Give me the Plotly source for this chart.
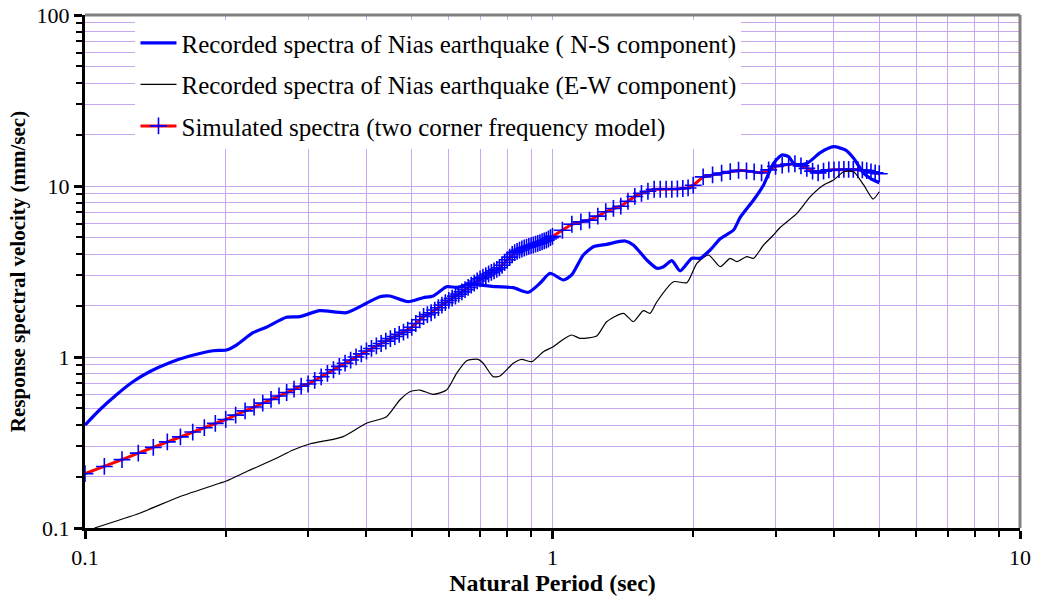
import plotly.graph_objects as go

# ---------------- data ----------------
period_ns = [0.100, 0.1074, 0.1166, 0.1266, 0.1374, 0.1517, 0.1675, 0.1878, 0.2006, 0.2108,
             0.2288, 0.2443, 0.2697, 0.288, 0.3178, 0.3624, 0.400, 0.4272, 0.4487, 0.4912,
             0.5287, 0.5555, 0.5934, 0.6235, 0.666, 0.6995, 0.7597, 0.8245, 0.8877, 0.940,
             0.988, 1.055, 1.099, 1.164, 1.223, 1.306, 1.429, 1.489, 1.591, 1.672,
             1.728, 1.800, 1.875, 1.986, 2.069, 2.174, 2.284, 2.440, 2.520, 2.692,
             2.828, 2.970, 3.096, 3.198, 3.305, 3.502, 3.740, 3.994, 4.230, 4.407,
             4.630, 4.785, 5.000]
sv_ns = [0.400, 0.490, 0.600, 0.717, 0.820, 0.926, 1.013, 1.088, 1.099, 1.175,
         1.387, 1.492, 1.707, 1.721, 1.866, 1.816, 2.061, 2.253, 2.274, 2.105,
         2.222, 2.274, 2.577, 2.556, 2.673, 2.637, 2.577, 2.543, 2.390, 2.698,
         3.087, 2.820, 3.017, 3.950, 4.416, 4.560, 4.769, 4.518, 3.692, 3.302,
         3.373, 3.658, 3.184, 3.778, 3.778, 4.224, 4.912, 5.531, 6.545, 8.280,
         10.14, 13.57, 15.18, 14.84, 13.27, 13.57, 15.66, 16.97, 16.24, 14.52,
         11.87, 11.09, 10.45]

period_ew = [0.1048, 0.1308, 0.1594, 0.1941, 0.2006, 0.2214, 0.2567, 0.2786, 0.3025, 0.3393,
             0.3565, 0.400, 0.4416, 0.4714, 0.4954, 0.5204, 0.5555, 0.5934, 0.6235, 0.6553,
             0.6936, 0.7109, 0.7468, 0.772, 0.8245, 0.859, 0.903, 0.956, 1.004, 1.055,
             1.099, 1.145, 1.243, 1.306, 1.418, 1.489, 1.564, 1.617, 1.672, 1.815,
             1.939, 2.036, 2.157, 2.284, 2.399, 2.480, 2.604, 2.692, 2.828, 2.970,
             3.071, 3.333, 3.559, 3.801, 3.994, 4.195, 4.407, 4.630, 4.849, 5.000]
sv_ew = [0.100, 0.122, 0.1524, 0.1826, 0.1883, 0.2134, 0.2557, 0.2858, 0.310, 0.330,
         0.342, 0.4096, 0.4476, 0.5605, 0.6267, 0.641, 0.605, 0.641, 0.803, 0.951,
         0.969, 0.919, 0.767, 0.774, 0.919, 0.969, 0.939, 1.074, 1.149, 1.269,
         1.345, 1.286, 1.327, 1.608, 1.801, 1.608, 1.866, 1.801, 2.105, 2.756,
         2.720, 3.532, 3.950, 3.373, 3.778, 3.608, 3.860, 3.778, 4.518, 5.170,
         5.734, 6.923, 8.660, 10.14, 10.84, 12.12, 12.12, 10.14, 8.390, 9.260]

period_sim = [0.10, 0.11, 0.12, 0.13, 0.14, 0.15, 0.16, 0.17, 0.18, 0.19,
              0.20, 0.21, 0.22, 0.23, 0.24, 0.25, 0.26, 0.27, 0.28, 0.29,
              0.30, 0.31, 0.32, 0.33, 0.34, 0.35, 0.36, 0.37, 0.38, 0.39,
              0.40, 0.41, 0.42, 0.43, 0.44, 0.45, 0.46, 0.47, 0.48, 0.49,
              0.50, 0.51, 0.52, 0.53, 0.54, 0.55, 0.56, 0.57, 0.58, 0.59,
              0.60, 0.61, 0.62, 0.63, 0.64, 0.65, 0.66, 0.67, 0.68, 0.69,
              0.70, 0.71, 0.72, 0.73, 0.74, 0.75, 0.76, 0.77, 0.78, 0.79,
              0.80, 0.81, 0.82, 0.83, 0.84, 0.85, 0.86, 0.87, 0.88, 0.89,
              0.90, 0.91, 0.92, 0.93, 0.94, 0.95, 0.96, 0.97, 0.98, 0.99,
              1.00, 1.05, 1.10, 1.15, 1.20, 1.25, 1.30, 1.35, 1.40, 1.45,
              1.50, 1.55, 1.60, 1.65, 1.70, 1.75, 1.80, 1.85, 1.90, 1.95,
              2.00, 2.1, 2.2, 2.3, 2.4, 2.5, 2.6, 2.7, 2.8, 2.9,
              3.0, 3.1, 3.2, 3.3, 3.4, 3.5, 3.6, 3.7, 3.8, 3.9,
              4.0, 4.1, 4.2, 4.3, 4.4, 4.5, 4.6, 4.7, 4.8, 4.9,
              5.0]
sv_sim = [0.208, 0.229, 0.251, 0.274, 0.296, 0.319, 0.341, 0.364, 0.386, 0.409,
          0.431, 0.457, 0.484, 0.510, 0.537, 0.565, 0.592, 0.620, 0.648, 0.675,
          0.695, 0.729, 0.766, 0.803, 0.842, 0.881, 0.920, 0.960, 1.001, 1.043,
          1.084, 1.122, 1.161, 1.199, 1.239, 1.280, 1.318, 1.357, 1.396, 1.436,
          1.493, 1.570, 1.650, 1.725, 1.770, 1.815, 1.882, 1.942, 2.010, 2.080,
          2.145, 2.208, 2.270, 2.332, 2.404, 2.478, 2.553, 2.629, 2.706, 2.784,
          2.862, 2.926, 2.991, 3.057, 3.123, 3.190, 3.257, 3.324, 3.440, 3.568,
          3.702, 3.837, 3.976, 4.078, 4.146, 4.213, 4.281, 4.340, 4.385, 4.430,
          4.475, 4.518, 4.568, 4.617, 4.667, 4.720, 4.770, 4.820, 4.900, 4.986,
          5.072, 5.510, 5.974, 6.170, 6.320, 6.665, 7.070, 7.390, 7.620, 8.146,
          8.690, 9.050, 9.320, 9.570, 9.570, 9.570, 9.570, 9.620, 9.670, 9.740,
          10.11, 11.30, 11.62, 11.90, 12.14, 12.36, 12.26, 12.08, 11.92, 12.42,
          13.03, 13.23, 13.42, 13.49, 13.12, 12.68, 12.22, 11.93, 12.22, 12.42,
          12.43, 12.46, 12.50, 12.52, 12.50, 12.45, 12.41, 12.30, 12.10, 11.93,
          11.80]

x_tickvals = [0.1, 1, 10]
x_ticktext = ["0.1", "1", "10"]
y_tickvals = [0.1, 1, 10, 100]
y_ticktext = ["0.1", "1", "10", "100"]

name_ns = "Recorded spectra of Nias earthquake ( N-S component)"
name_ew = "Recorded spectra of Nias earthquake (E-W component)"
name_sim = "Simulated spectra (two corner frequency model)"

# ---------------- figure ----------------
SERIF = "Liberation Serif, Times New Roman, serif"
GRID = "#C8A6F2"

fig = go.Figure()
fig.add_trace(go.Scatter(
    x=period_sim, y=sv_sim, name=name_sim, mode="lines+markers",
    line=dict(color="#FF0000", width=3),
    marker=dict(symbol="cross-thin", size=12, line=dict(color="#0000FF", width=1.6), color="#0000FF"),
    legendgroup="c", legendrank=3))
fig.add_trace(go.Scatter(
    x=period_ew, y=sv_ew, name=name_ew, mode="lines",
    line=dict(color="#000000", width=1.2, shape="spline", smoothing=0.6),
    legendgroup="b", legendrank=2))
fig.add_trace(go.Scatter(
    x=period_ns, y=sv_ns, name=name_ns, mode="lines",
    line=dict(color="#0000FF", width=3.2, shape="spline", smoothing=0.6),
    legendgroup="a", legendrank=1))

minor_vals = [m * 10 ** e for e in range(-1, 2) for m in range(2, 10)]

fig.update_xaxes(
    type="log", range=[-1, 1], automargin=False,
    tickmode="array", tickvals=x_tickvals, ticktext=x_ticktext,
    showline=True, linecolor="black", linewidth=3,
    ticks="outside", ticklen=8, tickwidth=2.5, tickcolor="black",
    showgrid=True, gridcolor=GRID, gridwidth=1,
    minor=dict(tickmode="array", tickvals=minor_vals, ticks="outside", ticklen=6,
               tickwidth=2, tickcolor="black", showgrid=True, gridcolor=GRID, gridwidth=1),
    tickfont=dict(family=SERIF, size=22, color="black"),
    title=dict(text="<b>Natural Period (sec)</b>", font=dict(family=SERIF, size=24, color="black"),
               standoff=5),
)
fig.update_yaxes(
    type="log", range=[-1, 2], automargin=False,
    tickmode="array", tickvals=y_tickvals, ticktext=y_ticktext,
    showline=True, linecolor="black", linewidth=3,
    ticks="outside", ticklen=8, tickwidth=2.5, tickcolor="black",
    showgrid=True, gridcolor=GRID, gridwidth=1,
    minor=dict(tickmode="array", tickvals=minor_vals,
               ticks="outside", ticklen=6, tickwidth=2, tickcolor="black",
               showgrid=True, gridcolor=GRID, gridwidth=1),
    tickfont=dict(family=SERIF, size=22, color="black"),
    title=dict(text="<b>Response spectral velocity (mm/sec)</b>",
               font=dict(family=SERIF, size=21, color="black"), standoff=6),
)

fig.update_layout(
    width=1039, height=598,
    margin=dict(l=85, r=19, t=15, b=70, autoexpand=False),
    paper_bgcolor="white", plot_bgcolor="white",
    showlegend=True,
    legend=dict(x=0.054, y=0.99, xanchor="left", yanchor="top",
                bgcolor="white", borderwidth=0,
                font=dict(family=SERIF, size=25, color="black"),
                tracegroupgap=6, itemwidth=36),
    shapes=[
        dict(type="line", xref="paper", yref="paper", x0=0, x1=1, y0=1, y1=1,
             line=dict(color="#808080", width=3)),
        dict(type="line", xref="paper", yref="paper", x0=1, x1=1, y0=0, y1=1,
             line=dict(color="#808080", width=3)),
    ],
)

fig.write_html("out.html", config={"displayModeBar": False},
               post_script="document.body.style.margin='0';document.body.style.overflow='hidden';")
